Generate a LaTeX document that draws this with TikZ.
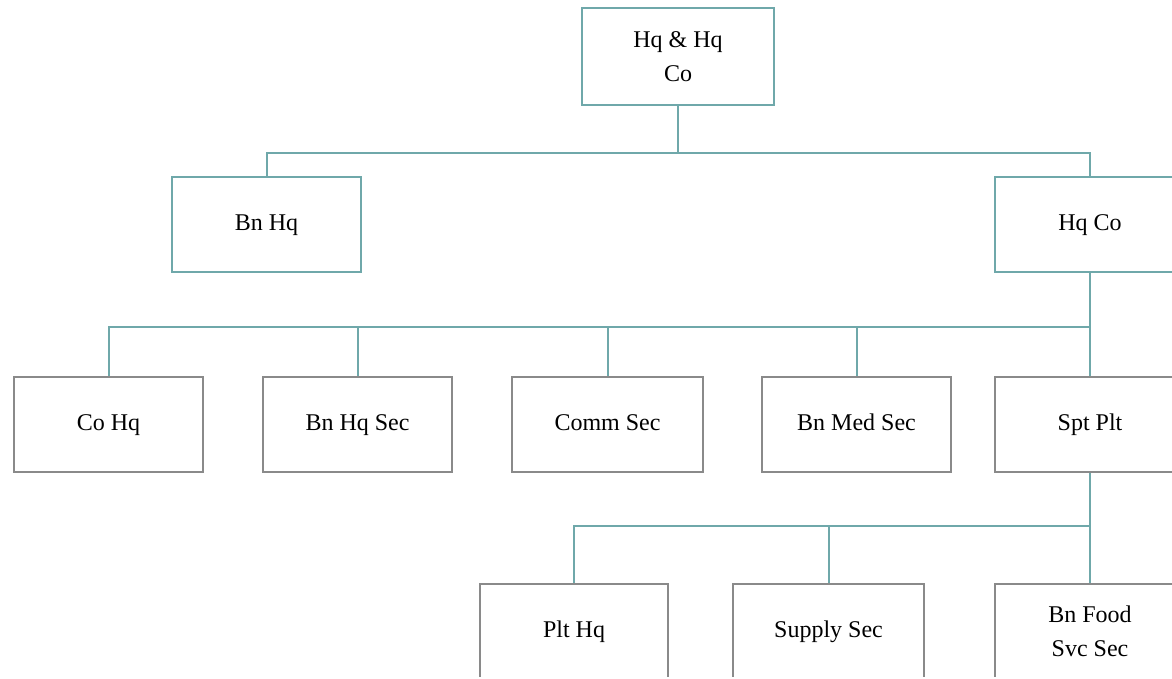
\documentclass[tikz,border=0pt]{standalone}
\usepackage{fontspec}
\setmainfont{Liberation Serif}
\definecolor{teal1}{HTML}{6FA8AA}
\definecolor{gray1}{HTML}{8A8A8A}
\begin{document}
\begin{tikzpicture}[x=1pt,y=-1pt,
  box/.style={draw=#1,line width=2pt,fill=white,minimum width=189pt,minimum height=95pt,inner sep=0pt,
    align=center,font=\fontsize{24}{34}\selectfont},
  one/.style={text height=16.5pt,text depth=5.5pt},
  conn/.style={draw=teal1,line width=2pt}]
\useasboundingbox (0,0) rectangle (1172,678);
\clip (0,0) rectangle (1172,676.5);
% nodes
\node[box=teal1,minimum width=192pt,minimum height=97pt] (top) at (678,56.5) {Hq \& Hq\\Co};
\node[box=teal1,one] (bnhq) at (266.5,224.5) {Bn Hq};
\node[box=teal1,one,minimum width=190pt] (hqco) at (1090,224.5) {Hq Co};
\node[box=gray1,one] (cohq) at (108.5,424.5) {Co Hq};
\node[box=gray1,one] (bnhqsec) at (357.5,424.5) {Bn Hq Sec};
\node[box=gray1,one,minimum width=191pt] (comm) at (607.5,424.5) {Comm Sec};
\node[box=gray1,one] (med) at (856.5,424.5) {Bn Med Sec};
\node[box=gray1,one,minimum width=190pt] (spt) at (1090,424.5) {Spt Plt};
\node[box=gray1,one,minimum width=188pt] (plthq) at (574,631.5) {Plt Hq};
\node[box=gray1,one,minimum width=191pt] (supply) at (828.5,631.5) {Supply Sec};
\node[box=gray1,minimum width=190pt] (food) at (1090,631.5) {Bn Food\\Svc Sec};
% connectors
\coordinate (j1) at (678,153);
\draw[conn] (top.south) -- (j1);
\draw[conn] (j1) -| (bnhq.north);
\draw[conn] (j1) -| (hqco.north);
\coordinate (j2) at (1090,327);
\draw[conn] (hqco.south) -- (j2);
\foreach \n in {cohq,bnhqsec,comm,med,spt} \draw[conn] (j2) -| (\n.north);
\coordinate (j3) at (1090,526);
\draw[conn] (spt.south) -- (j3);
\foreach \n in {plthq,supply,food} \draw[conn] (j3) -| (\n.north);
\end{tikzpicture}
\end{document}
